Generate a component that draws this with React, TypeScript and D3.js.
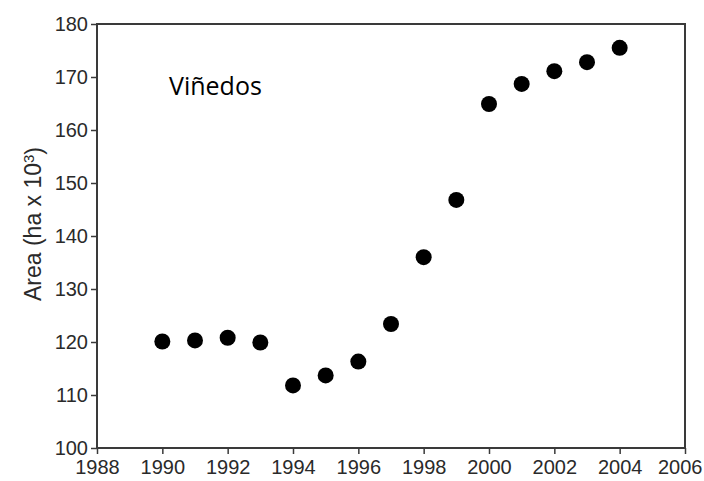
import React, { useEffect, useRef } from 'react';
import * as d3 from 'd3';

// data
const years = [1990, 1991, 1992, 1993, 1994, 1995, 1996, 1997, 1998, 1999, 2000, 2001, 2002, 2003, 2004];
const area = [120.1, 120.3, 120.8, 119.9, 111.8, 113.7, 116.3, 123.4, 136.0, 146.8, 164.9, 168.7, 171.1, 172.8, 175.5];
const xTicks = [1988, 1990, 1992, 1994, 1996, 1998, 2000, 2002, 2004, 2006];
const yTicks = [100, 110, 120, 130, 140, 150, 160, 170, 180];

const axisFont = "'Liberation Sans', Arial, sans-serif";

export default function App() {
  const ref = useRef<SVGSVGElement>(null);

  useEffect(() => {
    const margin = { top: 24, right: 19, bottom: 33, left: 97 };
    const width = 704 - margin.left - margin.right;
    const height = 481 - margin.top - margin.bottom;

    const xScale = d3.scaleLinear().domain([1988, 2006]).range([0, width]);
    const yScale = d3.scaleLinear().domain([100, 180]).range([height, 0]);

    const svg = d3.select(ref.current);
    svg.selectAll('*').remove();

    const g = svg.append('g').attr('transform', `translate(${margin.left},${margin.top})`);

    // frame
    g.append('rect')
      .attr('width', width)
      .attr('height', height)
      .attr('fill', 'none')
      .attr('stroke', '#3a3a3a')
      .attr('stroke-width', 2);

    const xAxis = d3.axisBottom(xScale).tickValues(xTicks).tickFormat(d3.format('d')).tickSize(6).tickPadding(5);
    const yAxis = d3.axisLeft(yScale).tickValues(yTicks).tickSize(6).tickPadding(3);

    const xg = g.append('g').attr('transform', `translate(0,${height})`).call(xAxis);
    const yg = g.append('g').call(yAxis);

    [xg, yg].forEach(a => {
      a.attr('font-family', null).attr('font-size', null);
      a.select('.domain').remove();
      a.selectAll('line').attr('stroke', '#3a3a3a').attr('stroke-width', 1.5);
      a.selectAll('text')
        .attr('fill', '#2a2a2a')
        .attr('font-family', axisFont)
        .attr('font-size', 20);
    });
    xg.selectAll('text').attr('dy', '0.75em');
    // last label sits against the right edge
    xg.selectAll<SVGTextElement, number>('text')
      .filter(d => d === 2006)
      .attr('text-anchor', 'end')
      .attr('x', 17);

    // points
    g.selectAll('circle.pt')
      .data(years.map((y, i) => ({ x: y, y: area[i] })))
      .enter()
      .append('circle')
      .attr('class', 'pt')
      .attr('cx', d => xScale(d.x))
      .attr('cy', d => yScale(d.y))
      .attr('r', 8)
      .attr('fill', '#000');

    // title
    g.append('text')
      .attr('x', 72)
      .attr('y', 71)
      .attr('fill', '#000')
      .attr('font-family', "'Open Sans', sans-serif")
      .attr('font-size', 25)
      .text('Viñedos');

    // y label
    const lab = svg.append('text')
      .attr('transform', `translate(41,224) rotate(-90)`)
      .attr('text-anchor', 'middle')
      .attr('fill', '#2a2a2a')
      .attr('font-family', axisFont)
      .attr('font-size', 23);
    lab.append('tspan').text('Area (ha x 10');
    lab.append('tspan').attr('dy', '-0.5em').attr('font-size', 15).text('3');
    lab.append('tspan').attr('dy', '0.35em').text(')');
  }, []);

  return (
    <svg ref={ref} width={704} height={481} style={{ position: 'absolute', left: 0, top: 0, background: '#fff' }} />
  );
}
